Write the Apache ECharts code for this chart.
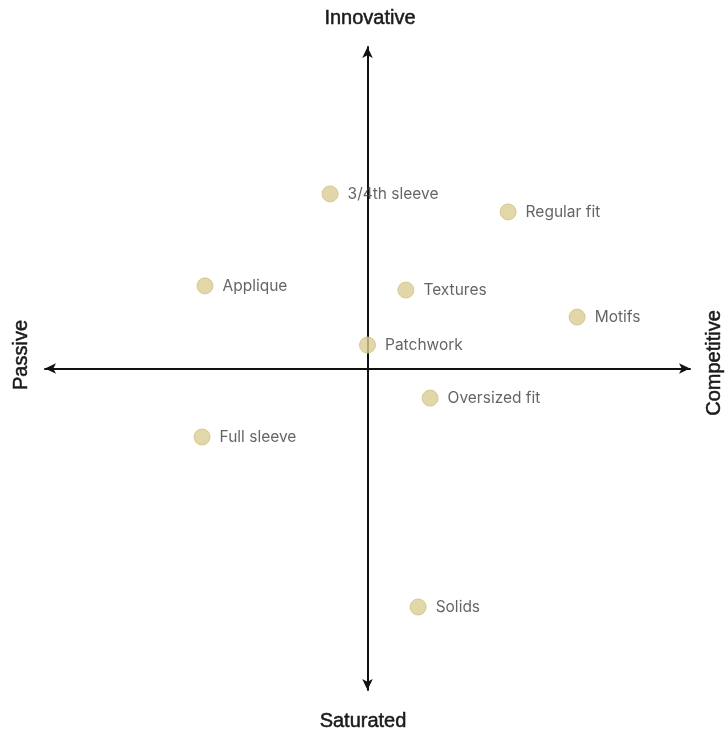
<!DOCTYPE html>
<html><head><meta charset="utf-8">
<script src="https://cdn.jsdelivr.net/npm/echarts@6/dist/echarts.min.js"></script>
<style>html,body{margin:0;padding:0;background:#fff}#c{width:726px;height:735px}</style>
</head><body><div id="c"></div>
<script>
const names = ['3/4th sleeve','Regular fit','Applique','Textures','Motifs','Patchwork','Oversized fit','Full sleeve','Solids'];
const xVals = [-1.16, 4.36, -5.04, 1.19, 6.50, 0.00, 1.94, -5.13, 1.57];
const yVals = [5.43, 4.87, 2.57, 2.44, 1.60, 0.73, -0.92, -2.13, -7.42];
const axisTitles = {top:'Innovative', bottom:'Saturated', left:'Passive', right:'Competitive'};

const chart = echarts.init(document.getElementById('c'));
const data = names.map((n,i)=>({name:n, value:[xVals[i], yVals[i]]}));
const arrowAxis = {
  show:true, onZero:true,
  symbol:['arrow','arrow'], symbolSize:[8,11],
  lineStyle:{color:'#111', width:2}
};
const titleStyle = {fontFamily:'Liberation Sans, Arial', fontSize:20, fontWeight:'normal', fill:'#1a1a1a', stroke:'#1a1a1a', lineWidth:0.5};
chart.setOption({
  animation:false,
  grid:{left:45, top:47, width:645, height:643},
  xAxis:{type:'value', min:-10, max:10, axisLine:arrowAxis, axisTick:{show:false}, axisLabel:{show:false}, splitLine:{show:false}},
  yAxis:{type:'value', min:-10, max:10, axisLine:arrowAxis, axisTick:{show:false}, axisLabel:{show:false}, splitLine:{show:false}},
  series:[{
    type:'scatter', data:data, symbolSize:16,
    itemStyle:{color:'#d9cd93', borderColor:'#cfc080', borderWidth:1},
    label:{show:true, position:'right', distance:9, formatter:'{b}', fontFamily:'Inter, Liberation Sans', fontSize:15.5, color:'#3d3d3d'},
    z:3
  }],
  graphic:[
    {type:'text', x:370, y:18, style:Object.assign({text:axisTitles.top, align:'center', verticalAlign:'middle'}, titleStyle)},
    {type:'text', x:363, y:721, style:Object.assign({text:axisTitles.bottom, align:'center', verticalAlign:'middle'}, titleStyle)},
    {type:'text', x:21, y:355, rotation:Math.PI/2, style:Object.assign({text:axisTitles.left, align:'center', verticalAlign:'middle'}, titleStyle)},
    {type:'text', x:714, y:363, rotation:Math.PI/2, style:Object.assign({text:axisTitles.right, align:'center', verticalAlign:'middle'}, titleStyle)}
  ]
});
</script></body></html>
